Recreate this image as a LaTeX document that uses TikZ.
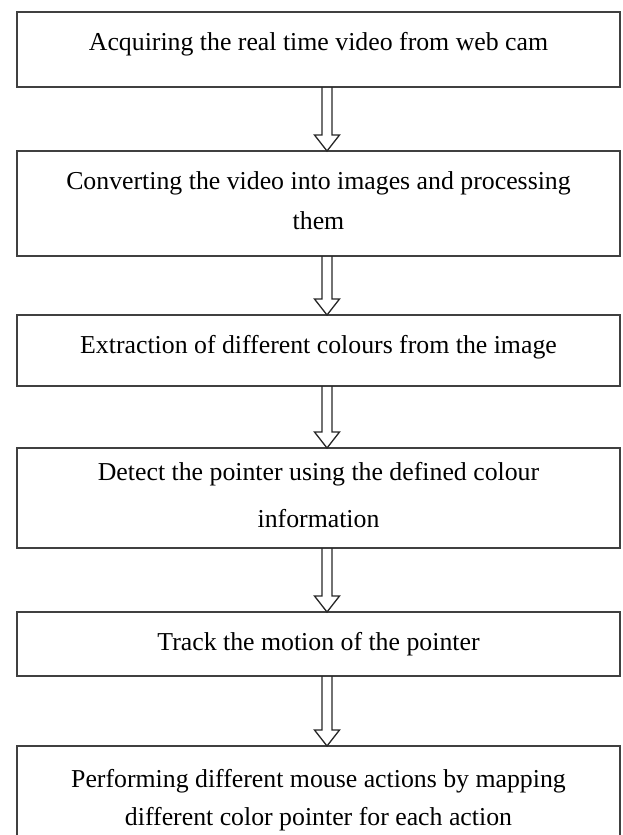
\documentclass[tikz,border=0pt]{standalone}
\usepackage{fontspec}
\setmainfont{Liberation Serif}
\usetikzlibrary{calc}

\tikzset{
  stepbox/.style={draw=black!75, line width=1.7pt, rectangle, inner sep=0pt, outer sep=0pt,
                  minimum width=603pt},
  lbl/.style={anchor=base, inner sep=0pt, text=black, font=\fontsize{25.8}{30}\selectfont},
  % hollow block arrow from the start point down to the target point
  holarrow/.style={draw=black!85, line width=1.3pt, line join=miter, to path={
    let \p1=(\tikztostart), \p2=(\tikztotarget) in
    (\x1-5pt,\y1) -- (\x1-5pt,\y2+16pt) -- (\x1-12.5pt,\y2+16pt) -- (\x1,\y2)
    -- (\x1+12.5pt,\y2+16pt) -- (\x1+5pt,\y2+16pt) -- (\x1+5pt,\y1)}}
}

\begin{document}
\begin{tikzpicture}[x=1pt, y=-1pt]
  \useasboundingbox (0,0) rectangle (622,835);

  % process boxes
  \node[stepbox, minimum height=75pt]  (b1) at (318.5,49.5)  {};
  \node[stepbox, minimum height=105pt] (b2) at (318.5,203.5) {};
  \node[stepbox, minimum height=71pt]  (b3) at (318.5,350.5) {};
  \node[stepbox, minimum height=100pt] (b4) at (318.5,498)   {};
  \node[stepbox, minimum height=64pt]  (b5) at (318.5,644)   {};
  \node[stepbox, minimum height=110pt] (b6) at (318.5,801)   {};

  % box texts
  \node[lbl] (t1)  at (318.5,50.5) {Acquiring the real time video from web cam};
  \node[lbl] (t2a) at (318.5,189)  {Converting the video into images and processing};
  \node[lbl] (t2b) at (318.5,229)  {them};
  \node[lbl] (t3)  at (318.5,353)  {Extraction of different colours from the image};
  \node[lbl] (t4a) at (318.5,480)  {Detect the pointer using the defined colour};
  \node[lbl] (t4b) at (318.5,527)  {information};
  \node[lbl] (t5)  at (318.5,650)  {Track the motion of the pointer};
  \node[lbl] (t6a) at (318.5,787)  {Performing different mouse actions by mapping};
  \node[lbl] (t6b) at (318.5,825)  {different color pointer for each action};

  % arrows between consecutive steps
  \coordinate (ax) at (327,0);
  \draw[holarrow] (b1.south -| ax) to (b2.north -| ax);
  \draw[holarrow] (b2.south -| ax) to (b3.north -| ax);
  \draw[holarrow] (b3.south -| ax) to (b4.north -| ax);
  \draw[holarrow] (b4.south -| ax) to (b5.north -| ax);
  \draw[holarrow] (b5.south -| ax) to (b6.north -| ax);
\end{tikzpicture}
\end{document}
